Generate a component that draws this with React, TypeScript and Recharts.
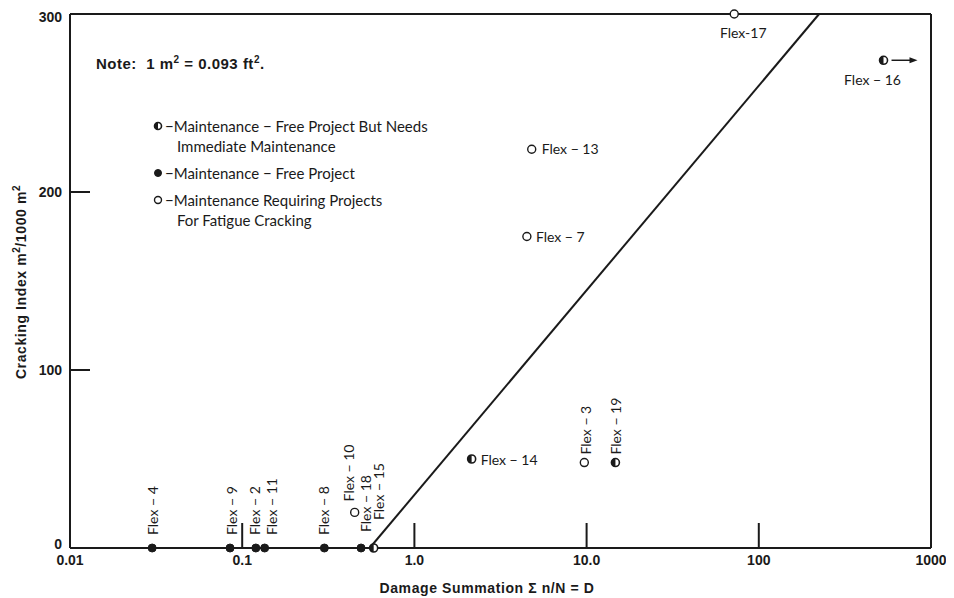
import { ScatterChart, Scatter, XAxis, YAxis } from "recharts";

// sections
const sections = [
  "Flex − 4", "Flex − 9", "Flex − 2", "Flex − 11", "Flex − 8", "Flex − 10", "Flex − 18", "Flex − 15",
  "Flex − 14", "Flex − 3", "Flex − 19", "Flex − 13", "Flex − 7", "Flex-17", "Flex − 16",
];
const damageSum = [0.03, 0.085, 0.12, 0.135, 0.3, 0.45, 0.49, 0.58, 2.15, 9.7, 14.7, 4.8, 4.5, 72, 530];
const crackingIndex = [0, 0, 0, 0, 0, 20, 0, 0, 50, 48, 48, 224, 175, 300, 274];
// free = maintenance-free, needs = free but needs immediate maintenance, req = requires maintenance
const status = ["free", "free", "free", "free", "free", "req", "free", "needs", "needs", "req", "needs", "req", "req", "req", "needs"];

// limiting line
const limitDamage = [0.55, 224];
const limitCracking = [0, 300];

const xTicks = [0.01, 0.1, 1, 10, 100, 1000];
const xTickLabels = ["0.01", "0.1", "1.0", "10.0", "100", "1000"];
const yTicks = [0, 100, 200, 300];

// label placement relative to each marker: [dx, dy, vertical?, anchor]
const labelPlace: Record<string, [number, number, boolean, string]> = {
  "Flex − 4": [1, -13, true, "start"],
  "Flex − 9": [2, -13, true, "start"],
  "Flex − 2": [-1, -13, true, "start"],
  "Flex − 11": [7, -13, true, "start"],
  "Flex − 8": [0, -13, true, "start"],
  "Flex − 10": [-6, -11, true, "start"],
  "Flex − 18": [5, -16, true, "start"],
  "Flex − 15": [5, -28, true, "start"],
  "Flex − 14": [9, 6, false, "start"],
  "Flex − 3": [2, -8, true, "start"],
  "Flex − 19": [1, -8, true, "start"],
  "Flex − 13": [10, 5, false, "start"],
  "Flex − 7": [9, 5, false, "start"],
  "Flex-17": [9, 24, false, "middle"],
  "Flex − 16": [-11, 25, false, "middle"],
};

const points = sections.map((name, i) => ({
  name,
  x: damageSum[i],
  y: crackingIndex[i],
  status: status[i],
}));
const limitLine = limitDamage.map((x, i) => ({ x, y: limitCracking[i] }));

const INK = "#1a1a1a";
const BOLD = "'Liberation Sans', Arial, sans-serif";
const PLAIN = "Lato, 'Open Sans', sans-serif";

function Marker({ cx, cy, kind, r = 4 }: { cx: number; cy: number; kind: string; r?: number }) {
  if (kind === "free") return <circle cx={cx} cy={cy} r={r} fill={INK} stroke={INK} />;
  if (kind === "req") return <circle cx={cx} cy={cy} r={r} fill="#fff" stroke={INK} strokeWidth={1.4} />;
  return (
    <g>
      <circle cx={cx} cy={cy} r={r} fill="#fff" stroke={INK} strokeWidth={1.6} />
      <path d={`M${cx},${cy - r} A${r},${r} 0 0 0 ${cx},${cy + r} Z`} fill={INK} />
    </g>
  );
}

function PointShape(props: any) {
  const { cx, cy, payload } = props;
  const [dx, dy, vertical, anchor] = labelPlace[payload.name];
  const tx = cx + dx;
  const ty = cy + dy;
  return (
    <g>
      <Marker cx={cx} cy={cy} kind={payload.status} />
      {vertical ? (
        <text
          x={tx + 5}
          y={ty}
          transform={`rotate(-90 ${tx + 5} ${ty})`}
          textAnchor="start"
          fontFamily={PLAIN}
          fontSize={14}
          fill={INK}
        >
          {payload.name}
        </text>
      ) : (
        <text x={tx} y={ty} textAnchor={anchor as any} fontFamily={PLAIN} fontSize={14} fill={INK}>
          {payload.name}
        </text>
      )}
      {payload.name === "Flex − 16" && (
        <g>
          <line x1={cx + 8} y1={cy} x2={cx + 28} y2={cy} stroke={INK} strokeWidth={1.5} />
          <path d={`M${cx + 34},${cy} L${cx + 26},${cy - 3} L${cx + 26},${cy + 3} Z`} fill={INK} />
        </g>
      )}
    </g>
  );
}

function BottomTick({ x, y, payload }: any) {
  const i = xTicks.indexOf(payload.value);
  const inner = payload.value > 0.01 && payload.value < 1000;
  return (
    <g>
      {inner && <line x1={x} x2={x} y1={y} y2={y - 25} stroke={INK} strokeWidth={2} />}
      <text x={x} y={y + 17} textAnchor="middle" fontFamily={BOLD} fontWeight="bold" fontSize={14} fill={INK}>
        {xTickLabels[i]}
      </text>
    </g>
  );
}

function TopTick({ x, y }: any) {
  return <line x1={x} x2={x} y1={y} y2={y + 8} stroke={INK} strokeWidth={2} />;
}

function LeftTick({ x, y, payload }: any) {
  const inner = payload.value > 0 && payload.value < 300;
  const base = payload.value === 0 ? y + 1 : y + 5;
  return (
    <g>
      {inner && <line x1={x} x2={x + 20} y1={y} y2={y} stroke={INK} strokeWidth={2} />}
      <text x={x - 8} y={base} textAnchor="end" fontFamily={BOLD} fontWeight="bold" fontSize={14} fill={INK}>
        {payload.value}
      </text>
    </g>
  );
}

function RightTick({ x, y }: any) {
  return <line x1={x} x2={x - 10} y1={y} y2={y} stroke={INK} strokeWidth={2} />;
}

const legendRows = [
  { kind: "needs", lines: ["Maintenance − Free Project But Needs", "Immediate Maintenance"] },
  { kind: "free", lines: ["Maintenance − Free Project"] },
  { kind: "req", lines: ["Maintenance Requiring Projects", "For Fatigue Cracking"] },
];

export default function App() {
  return (
    <div style={{ position: "relative", width: 946, height: 590, background: "#fff" }}>
      <ScatterChart width={946} height={590} margin={{ top: 5, right: 22, bottom: 0, left: 0 }}>
        <XAxis
          dataKey="x"
          type="number"
          scale="log"
          domain={[0.01, 1000]}
          ticks={xTicks}
          allowDataOverflow
          height={50}
          tickSize={0}
          tickMargin={0}
          tickLine={false}
          axisLine={{ stroke: INK, strokeWidth: 2 }}
          tick={<BottomTick />}
        />
        <XAxis
          xAxisId="top"
          orientation="top"
          type="number"
          scale="log"
          domain={[0.01, 1000]}
          ticks={[0.1, 1, 10]}
          height={1}
          tickSize={0}
          tickMargin={0}
          tickLine={false}
          axisLine={{ stroke: INK, strokeWidth: 2 }}
          tick={<TopTick />}
        />
        <YAxis
          dataKey="y"
          type="number"
          domain={[0, 300]}
          ticks={yTicks}
          width={62}
          tickSize={0}
          tickMargin={0}
          tickLine={false}
          axisLine={{ stroke: INK, strokeWidth: 2 }}
          tick={<LeftTick />}
        />
        <YAxis
          yAxisId="right"
          orientation="right"
          type="number"
          domain={[0, 300]}
          ticks={[200]}
          width={1}
          tickSize={0}
          tickMargin={0}
          tickLine={false}
          axisLine={{ stroke: INK, strokeWidth: 2 }}
          tick={<RightTick />}
        />
        <Scatter
          data={limitLine}
          line={{ stroke: INK, strokeWidth: 2 }}
          lineType="joint"
          shape={() => <g />}
          isAnimationActive={false}
        />
        <Scatter data={points} shape={<PointShape />} isAnimationActive={false} />
      </ScatterChart>

      <div
        style={{
          position: "absolute",
          left: 88,
          top: 46,
          fontFamily: BOLD,
          fontWeight: "bold",
          fontSize: 15,
          letterSpacing: 0.5,
          color: INK,
          whiteSpace: "nowrap",
        }}
      >
        Note:&nbsp; 1 m<sup style={{ fontSize: 10 }}>2</sup> = 0.093 ft<sup style={{ fontSize: 10 }}>2</sup>.
      </div>

      <div
        style={{
          position: "absolute",
          left: 144,
          top: 108,
          fontFamily: PLAIN,
          fontSize: 15,
          color: INK,
          lineHeight: "20px",
          whiteSpace: "nowrap",
        }}
      >
        {legendRows.map((row) => (
          <div key={row.kind} style={{ marginBottom: 7 }}>
            {row.lines.map((ln, j) => (
              <div key={j} style={{ display: "flex", alignItems: "center" }}>
                <svg width={12} height={12} style={{ visibility: j === 0 ? "visible" : "hidden" }}>
                  <Marker cx={6} cy={6} kind={row.kind} r={3.5} />
                </svg>
                <span style={{ marginLeft: j === 0 ? 1 : 13 }}>{j === 0 ? "−" + ln : ln}</span>
              </div>
            ))}
          </div>
        ))}
      </div>

      <div
        style={{
          position: "absolute",
          left: 0,
          top: 572,
          width: 958,
          textAlign: "center",
          fontFamily: BOLD,
          fontWeight: "bold",
          fontSize: 14,
          letterSpacing: 0.6,
          color: INK,
        }}
      >
        Damage Summation Σ n/N = D
      </div>

      <div
        style={{
          position: "absolute",
          left: 12,
          top: 274,
          transform: "translate(-50%, -50%) rotate(-90deg)",
          fontFamily: BOLD,
          fontWeight: "bold",
          fontSize: 14,
          letterSpacing: 0.6,
          color: INK,
          whiteSpace: "nowrap",
        }}
      >
        Cracking Index m<sup style={{ fontSize: 10 }}>2</sup>/1000 m<sup style={{ fontSize: 10 }}>2</sup>
      </div>
    </div>
  );
}
